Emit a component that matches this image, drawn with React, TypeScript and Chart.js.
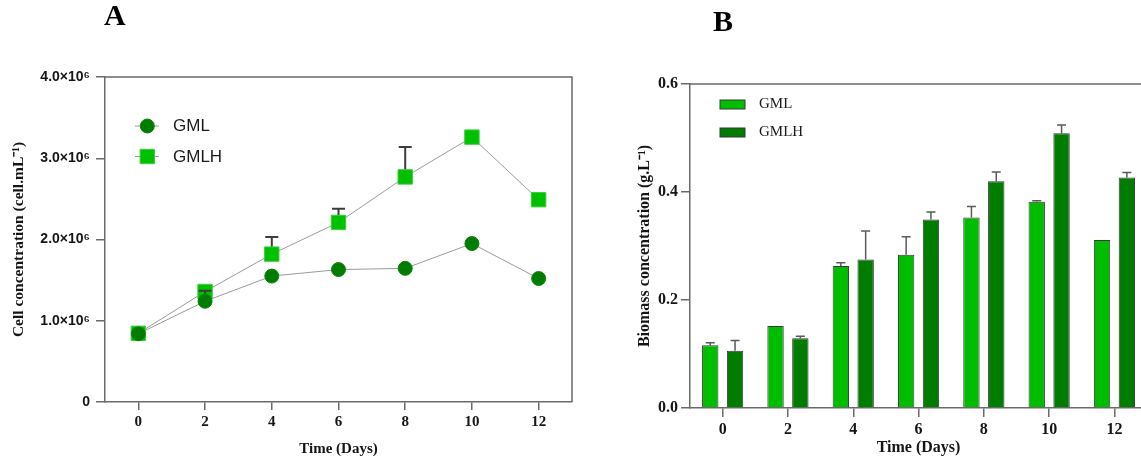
import React, { useEffect, useRef } from 'react';
import { Chart, registerables } from 'chart.js';

Chart.register(...registerables);

// ---------- Panel A data ----------
const daysA = [0, 2, 4, 6, 8, 10, 12];
const gmlCellsA = [0.84e6, 1.24e6, 1.55e6, 1.63e6, 1.645e6, 1.95e6, 1.52e6];
const gmlhCellsA = [0.845e6, 1.36e6, 1.82e6, 2.21e6, 2.77e6, 3.26e6, 2.49e6];
const gmlCellsErrA = [0, 0.13e6, 0, 0, 0, 0, 0];
const gmlhCellsErrA = [0, 0, 0.21e6, 0.17e6, 0.37e6, 0, 0];
const yTicksA = [0, 1e6, 2e6, 3e6, 4e6];
const yTickLabelsA = ['0', '1.0×10⁶', '2.0×10⁶', '3.0×10⁶', '4.0×10⁶'];

// ---------- Panel B data ----------
const daysB = ['0', '2', '4', '6', '8', '10', '12'];
const gmlBiomassB = [0.116, 0.152, 0.263, 0.284, 0.353, 0.382, 0.311];
const gmlBiomassErrB = [0.005, 0, 0.006, 0.033, 0.02, 0.002, 0];
const gmlhBiomassB = [0.106, 0.129, 0.275, 0.349, 0.42, 0.509, 0.427];
const gmlhBiomassErrB = [0.019, 0.004, 0.053, 0.014, 0.017, 0.015, 0.009];
const yTicksB = [0, 0.2, 0.4, 0.6];
const yTickLabelsB = ['0.0', '0.2', '0.4', '0.6'];

const SERIF = "'Liberation Serif', 'Times New Roman', serif";
const SANS = "'Liberation Sans', Arial, sans-serif";
const AXIS = '#6a6a6a';
const TEXT = '#151515';

const errorBarPlugin = {
  id: 'errorBars',
  beforeDatasetDraw(chart: any, args: any, opts: any) {
    const ds = chart.data.datasets[args.index];
    const errs: number[] | undefined = ds.errors;
    if (!errs) return;
    const meta = args.meta;
    const yScale = chart.scales.y;
    const ctx = chart.ctx;
    ctx.save();
    ctx.strokeStyle = opts.color;
    ctx.lineWidth = opts.width;
    meta.data.forEach((el: any, i: number) => {
      const e = errs[i];
      if (!e) return;
      const v = meta._parsed[i].y;
      const x = el.x;
      const y0 = yScale.getPixelForValue(v);
      const y1 = yScale.getPixelForValue(v + e);
      ctx.beginPath();
      ctx.moveTo(x, y0);
      ctx.lineTo(x, y1);
      ctx.moveTo(x - opts.cap / 2, y1);
      ctx.lineTo(x + opts.cap / 2, y1);
      ctx.stroke();
    });
    ctx.restore();
  },
};

const frameAPlugin = {
  id: 'frameA',
  beforeDatasetsDraw(chart: any) {
    const { ctx, chartArea } = chart;
    ctx.save();
    ctx.strokeStyle = AXIS;
    ctx.lineWidth = 1.5;
    ctx.beginPath();
    ctx.moveTo(chartArea.left, chartArea.top);
    ctx.lineTo(chartArea.right, chartArea.top);
    ctx.lineTo(chartArea.right, chartArea.bottom);
    ctx.stroke();
    ctx.restore();
  },
  afterDraw(chart: any) {
    const ctx = chart.ctx;
    ctx.save();
    ctx.fillStyle = '#000';
    ctx.font = `bold 30px ${SERIF}`;
    ctx.textBaseline = 'alphabetic';
    ctx.textAlign = 'left';
    ctx.fillText('A', 104, 25);
    chart.data.datasets.forEach((ds: any, i: number) => {
      const y = 126 + i * 30.5;
      ctx.strokeStyle = ds.borderColor;
      ctx.lineWidth = 1;
      ctx.beginPath();
      ctx.moveTo(135, y);
      ctx.lineTo(159, y);
      ctx.stroke();
      ctx.fillStyle = ds.pointBackgroundColor;
      ctx.strokeStyle = ds.pointBorderColor;
      ctx.beginPath();
      if (ds.pointStyle === 'rect') {
        ctx.rect(147.3 - 7.2, y - 7.2, 14.4, 14.4);
      } else {
        ctx.arc(147.3, y, 7, 0, Math.PI * 2);
      }
      ctx.fill();
      ctx.stroke();
      ctx.fillStyle = '#1a1a1a';
      ctx.font = `17px ${SANS}`;
      ctx.textBaseline = 'middle';
      ctx.fillText(ds.label, 173, y + 0.5);
    });
    ctx.restore();
  },
};

const frameBPlugin = {
  id: 'frameB',
  beforeDatasetsDraw(chart: any) {
    const { ctx, chartArea } = chart;
    ctx.save();
    ctx.strokeStyle = AXIS;
    ctx.lineWidth = 1.5;
    ctx.beginPath();
    ctx.moveTo(chartArea.left, chartArea.top);
    ctx.lineTo(chartArea.right + 20, chartArea.top);
    ctx.stroke();
    ctx.restore();
  },
  afterDraw(chart: any) {
    const ctx = chart.ctx;
    ctx.save();
    ctx.fillStyle = '#000';
    ctx.font = `bold 30px ${SERIF}`;
    ctx.textBaseline = 'alphabetic';
    ctx.textAlign = 'left';
    ctx.fillText('B', 113, 31);
    chart.data.datasets.forEach((ds: any, i: number) => {
      const y = 104.5 + i * 28;
      ctx.fillStyle = ds.backgroundColor;
      ctx.strokeStyle = ds.borderColor;
      ctx.lineWidth = 1;
      ctx.fillRect(120, y - 4.5, 25, 9);
      ctx.strokeRect(120, y - 4.5, 25, 9);
      ctx.fillStyle = '#1a1a1a';
      ctx.font = `15px ${SERIF}`;
      ctx.textBaseline = 'middle';
      ctx.fillText(ds.label, 159, y);
    });
    ctx.restore();
  },
};

function ChartA() {
  const ref = useRef<HTMLCanvasElement>(null);
  useEffect(() => {
    if (!ref.current) return;
    const chart = new Chart(ref.current, {
      type: 'line',
      data: {
        datasets: [
          {
            label: 'GML',
            data: daysA.map((d, i) => ({ x: d, y: gmlCellsA[i] })),
            borderColor: '#9a9a9a',
            borderWidth: 1,
            pointStyle: 'circle',
            pointRadius: 7,
            pointBackgroundColor: '#007d00',
            pointBorderColor: '#0a850a',
            pointBorderWidth: 1,
            tension: 0,
            errors: gmlCellsErrA,
          } as any,
          {
            label: 'GMLH',
            data: daysA.map((d, i) => ({ x: d, y: gmlhCellsA[i] })),
            borderColor: '#9a9a9a',
            borderWidth: 1,
            pointStyle: 'rect',
            pointRadius: 10.2,
            pointBackgroundColor: '#00c000',
            pointBorderColor: '#3ccf3c',
            pointBorderWidth: 1,
            tension: 0,
            errors: gmlhCellsErrA,
          } as any,
        ],
      },
      options: {
        animation: false,
        responsive: false,
        layout: { padding: { top: 77, right: 28, bottom: 0, left: 0 } },
        plugins: {
          legend: { display: false },
          tooltip: { enabled: false },
          errorBars: { color: '#3d3d3d', width: 2, cap: 13 },
        } as any,
        scales: {
          x: {
            type: 'linear',
            min: -1,
            max: 13,
            afterBuildTicks: (s: any) => {
              s.ticks = daysA.map((v) => ({ value: v }));
            },
            afterFit: (s: any) => {
              s.height = 57;
            },
            grid: { display: true, drawOnChartArea: false, drawTicks: true, tickLength: 8, color: AXIS, lineWidth: 1.5 },
            border: { display: true, color: AXIS, width: 1.5 },
            ticks: {
              font: { family: SERIF, size: 15, weight: 'bold' },
              color: TEXT,
              padding: 3,
              maxRotation: 0,
              autoSkip: false,
            },
            title: {
              display: true,
              text: 'Time (Days)',
              font: { family: SERIF, size: 15, weight: 'bold' },
              color: TEXT,
              padding: { top: 0, bottom: 1 },
            },
          },
          y: {
            type: 'linear',
            min: 0,
            max: 4e6,
            afterBuildTicks: (s: any) => {
              s.ticks = yTicksA.map((v) => ({ value: v }));
            },
            afterFit: (s: any) => {
              s.width = 105;
            },
            grid: { display: true, drawOnChartArea: false, drawTicks: true, tickLength: 9, color: AXIS, lineWidth: 1.5 },
            border: { display: true, color: AXIS, width: 1.5 },
            ticks: {
              font: { family: SANS, size: 14, weight: 'bold' },
              color: TEXT,
              padding: 6,
              callback: (v: any) => yTickLabelsA[yTicksA.indexOf(Number(v))] ?? '',
            },
            title: {
              display: true,
              text: 'Cell concentration (cell.mL⁻¹)',
              font: { family: SERIF, size: 15.5, weight: 'bold' },
              color: TEXT,
              padding: { top: 9.7, bottom: 0 },
            },
          },
        },
      } as any,
      plugins: [errorBarPlugin, frameAPlugin],
    });
    return () => chart.destroy();
  }, []);
  return <canvas ref={ref} width={600} height={459} style={{ position: 'absolute', left: 0, top: 0 }} />;
}

function ChartB() {
  const ref = useRef<HTMLCanvasElement>(null);
  useEffect(() => {
    if (!ref.current) return;
    const chart = new Chart(ref.current, {
      type: 'bar',
      data: {
        labels: daysB,
        datasets: [
          {
            label: 'GML',
            data: gmlBiomassB,
            backgroundColor: '#00bd00',
            borderColor: '#383838',
            borderWidth: 1,
            categoryPercentage: 0.76,
            barPercentage: 0.66,
            errors: gmlBiomassErrB,
          } as any,
          {
            label: 'GMLH',
            data: gmlhBiomassB,
            backgroundColor: '#007d00',
            borderColor: '#383838',
            borderWidth: 1,
            categoryPercentage: 0.76,
            barPercentage: 0.66,
            errors: gmlhBiomassErrB,
          } as any,
        ],
      },
      options: {
        animation: false,
        responsive: false,
        layout: { padding: { top: 84, right: 12.9, bottom: 0, left: 0 } },
        plugins: {
          legend: { display: false },
          tooltip: { enabled: false },
          errorBars: { color: '#5a5a5a', width: 1.5, cap: 9 },
        } as any,
        scales: {
          x: {
            type: 'category',
            offset: true,
            afterFit: (s: any) => {
              s.height = 51;
            },
            grid: { display: true, offset: false, drawOnChartArea: false, drawTicks: true, tickLength: 9, color: AXIS, lineWidth: 1.5 },
            border: { display: true, color: AXIS, width: 1.5 },
            ticks: {
              font: { family: SERIF, size: 16, weight: 'bold' },
              color: TEXT,
              padding: 3,
              maxRotation: 0,
              autoSkip: false,
            },
            title: {
              display: true,
              text: 'Time (Days)',
              font: { family: SERIF, size: 16, weight: 'bold' },
              color: TEXT,
              padding: { top: 0, bottom: 1.4 },
            },
          },
          y: {
            type: 'linear',
            min: 0,
            max: 0.6,
            afterBuildTicks: (s: any) => {
              s.ticks = yTicksB.map((v) => ({ value: v }));
            },
            afterFit: (s: any) => {
              s.width = 90;
            },
            grid: { display: true, drawOnChartArea: false, drawTicks: true, tickLength: 9, color: AXIS, lineWidth: 1.5 },
            border: { display: true, color: AXIS, width: 1.5 },
            ticks: {
              font: { family: SERIF, size: 16, weight: 'bold' },
              color: TEXT,
              padding: 3,
              callback: (v: any) => {
                const idx = yTicksB.findIndex((t) => Math.abs(t - Number(v)) < 1e-9);
                return idx >= 0 ? yTickLabelsB[idx] : '';
              },
            },
            title: {
              display: true,
              text: 'Biomass concentration (g.L⁻¹)',
              font: { family: SERIF, size: 16, weight: 'bold' },
              color: TEXT,
              padding: { top: 35.4, bottom: 0 },
            },
          },
        },
      } as any,
      plugins: [errorBarPlugin, frameBPlugin],
    });
    return () => chart.destroy();
  }, []);
  return <canvas ref={ref} width={560} height={459} style={{ position: 'absolute', left: 600, top: 0 }} />;
}

export default function App() {
  return (
    <div
      style={{
        position: 'absolute',
        left: 0,
        top: 0,
        width: 1141,
        height: 459,
        overflow: 'hidden',
        background: '#fff',
      }}
    >
      <ChartA />
      <ChartB />
    </div>
  );
}
